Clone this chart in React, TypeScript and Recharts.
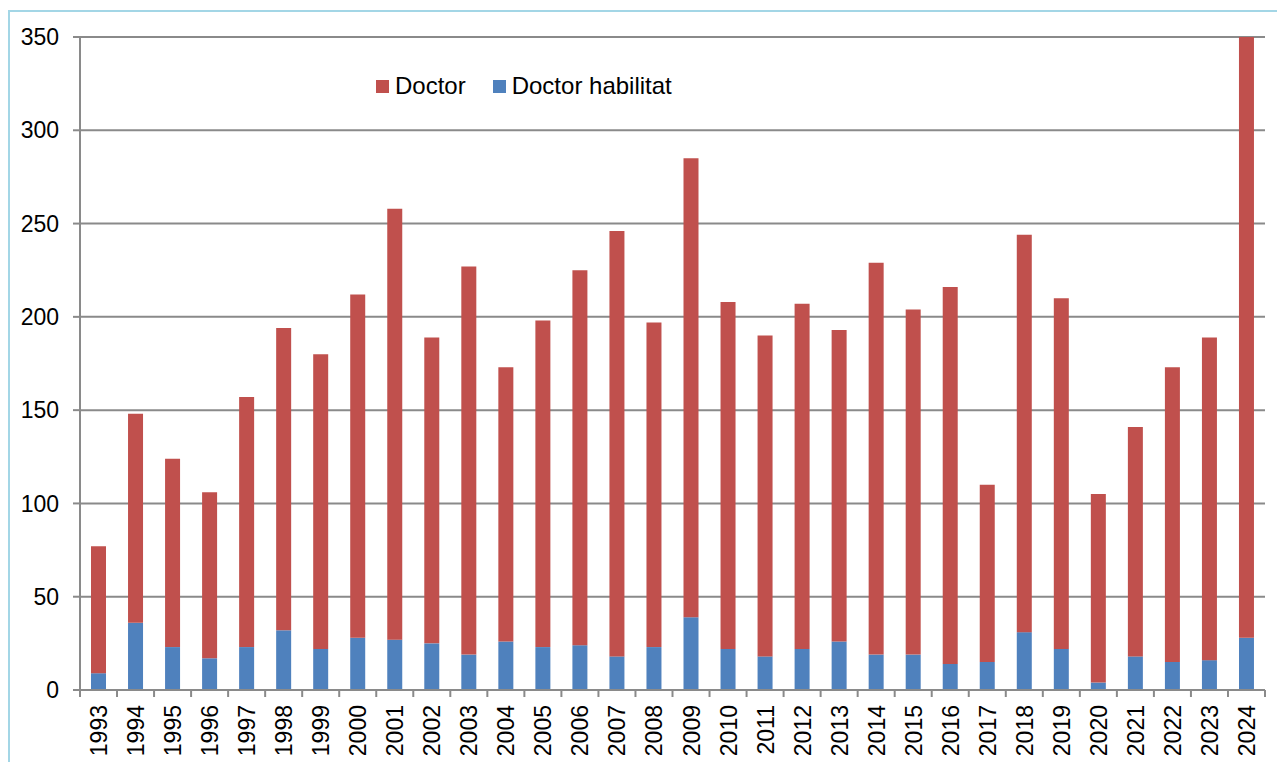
import { BarChart, Bar, XAxis, YAxis, CartesianGrid, Legend } from "recharts";

const years = [
  "1993", "1994", "1995", "1996", "1997", "1998", "1999", "2000",
  "2001", "2002", "2003", "2004", "2005", "2006", "2007", "2008",
  "2009", "2010", "2011", "2012", "2013", "2014", "2015", "2016",
  "2017", "2018", "2019", "2020", "2021", "2022", "2023", "2024",
];

// stacked on top of habilitat
const doctor = [
  68, 112, 101, 89, 134, 162, 158, 184,
  231, 164, 208, 147, 175, 201, 228, 174,
  246, 186, 172, 185, 167, 210, 185, 202,
  95, 213, 188, 101, 123, 158, 173, 322,
];

const doctorHabilitat = [
  9, 36, 23, 17, 23, 32, 22, 28,
  27, 25, 19, 26, 23, 24, 18, 23,
  39, 22, 18, 22, 26, 19, 19, 14,
  15, 31, 22, 4, 18, 15, 16, 28,
];

const yTicks = [0, 50, 100, 150, 200, 250, 300, 350];

const seriesNames = { doctor: "Doctor", habilitat: "Doctor habilitat" };

const RED = "#C0504D";
const BLUE = "#4F81BD";
const GRID = "#8a8a8a";
const FONT = "'Liberation Sans', Arial, sans-serif";

const W = 1277;
const H = 754;
const MARGIN = { top: 29, right: 20, bottom: 0, left: 0 };
const Y_AXIS_W = 72;
const BAND = (W - MARGIN.left - MARGIN.right - Y_AXIS_W) / years.length;

const data = years.map((year, i) => ({
  year,
  doctor: doctor[i],
  habilitat: doctorHabilitat[i],
}));

function YearTick(props: any) {
  const { x, y, payload, index } = props;
  const last = index === years.length - 1;
  return (
    <g>
      <line x1={x - BAND / 2} x2={x - BAND / 2} y1={y} y2={y + 7} stroke={GRID} strokeWidth={2} />
      {last && (
        <line x1={x + BAND / 2} x2={x + BAND / 2} y1={y} y2={y + 7} stroke={GRID} strokeWidth={2} />
      )}
      <text
        x={x + 8.5}
        y={y + 15}
        transform={`rotate(-90, ${x + 8.5}, ${y + 15})`}
        textAnchor="end"
        fill="#000"
        fontSize={23}
        fontFamily={FONT}
      >
        {payload.value}
      </text>
    </g>
  );
}

function LegendBox() {
  const items = [
    { name: seriesNames.doctor, color: RED },
    { name: seriesNames.habilitat, color: BLUE },
  ];
  return (
    <div style={{ display: "flex", alignItems: "center", height: 24, fontFamily: FONT, fontSize: 24, lineHeight: "24px", color: "#000", whiteSpace: "nowrap" }}>
      {items.map((it, i) => (
        <div key={it.name} style={{ display: "flex", alignItems: "center", marginLeft: i === 0 ? 0 : 27 }}>
          <span style={{ display: "inline-block", width: 13, height: 13, background: it.color, marginRight: 6 }} />
          <span>{it.name}</span>
        </div>
      ))}
    </div>
  );
}

export default function App() {
  return (
    <div style={{ position: "relative", width: W, height: H, background: "#fff" }}>
      <div
        style={{
          position: "absolute",
          left: 0,
          top: 2,
          width: W,
          height: H,
          borderTop: "2.5px solid #a3d6e6",
          borderLeft: "2.5px solid #a3d6e6",
          boxSizing: "border-box",
        }}
      />
      <BarChart width={W} height={H} data={data} margin={MARGIN} barSize={15}>
        <CartesianGrid vertical={false} stroke={GRID} strokeWidth={2} />
        <XAxis
          dataKey="year"
          interval={0}
          height={72}
          tickLine={false}
          tickSize={0}
          tickMargin={0}
          axisLine={{ stroke: GRID, strokeWidth: 2 }}
          tick={<YearTick />}
        />
        <YAxis
          width={Y_AXIS_W}
          domain={[0, 350]}
          ticks={yTicks}
          allowDataOverflow
          interval={0}
          tickSize={7}
          tickMargin={14}
          axisLine={{ stroke: GRID, strokeWidth: 2 }}
          tickLine={{ stroke: GRID, strokeWidth: 2 }}
          tick={{ fill: "#000", fontSize: 23, fontFamily: FONT }}
        />
        <Legend
          layout="horizontal"
          verticalAlign="middle"
          align="center"
          content={() => <LegendBox />}
          wrapperStyle={{ left: 368, top: 66, width: "auto", height: 24 }}
        />
        <Bar dataKey="habilitat" name={seriesNames.habilitat} stackId="a" fill={BLUE} isAnimationActive={false} />
        <Bar dataKey="doctor" name={seriesNames.doctor} stackId="a" fill={RED} isAnimationActive={false} />
      </BarChart>
    </div>
  );
}
